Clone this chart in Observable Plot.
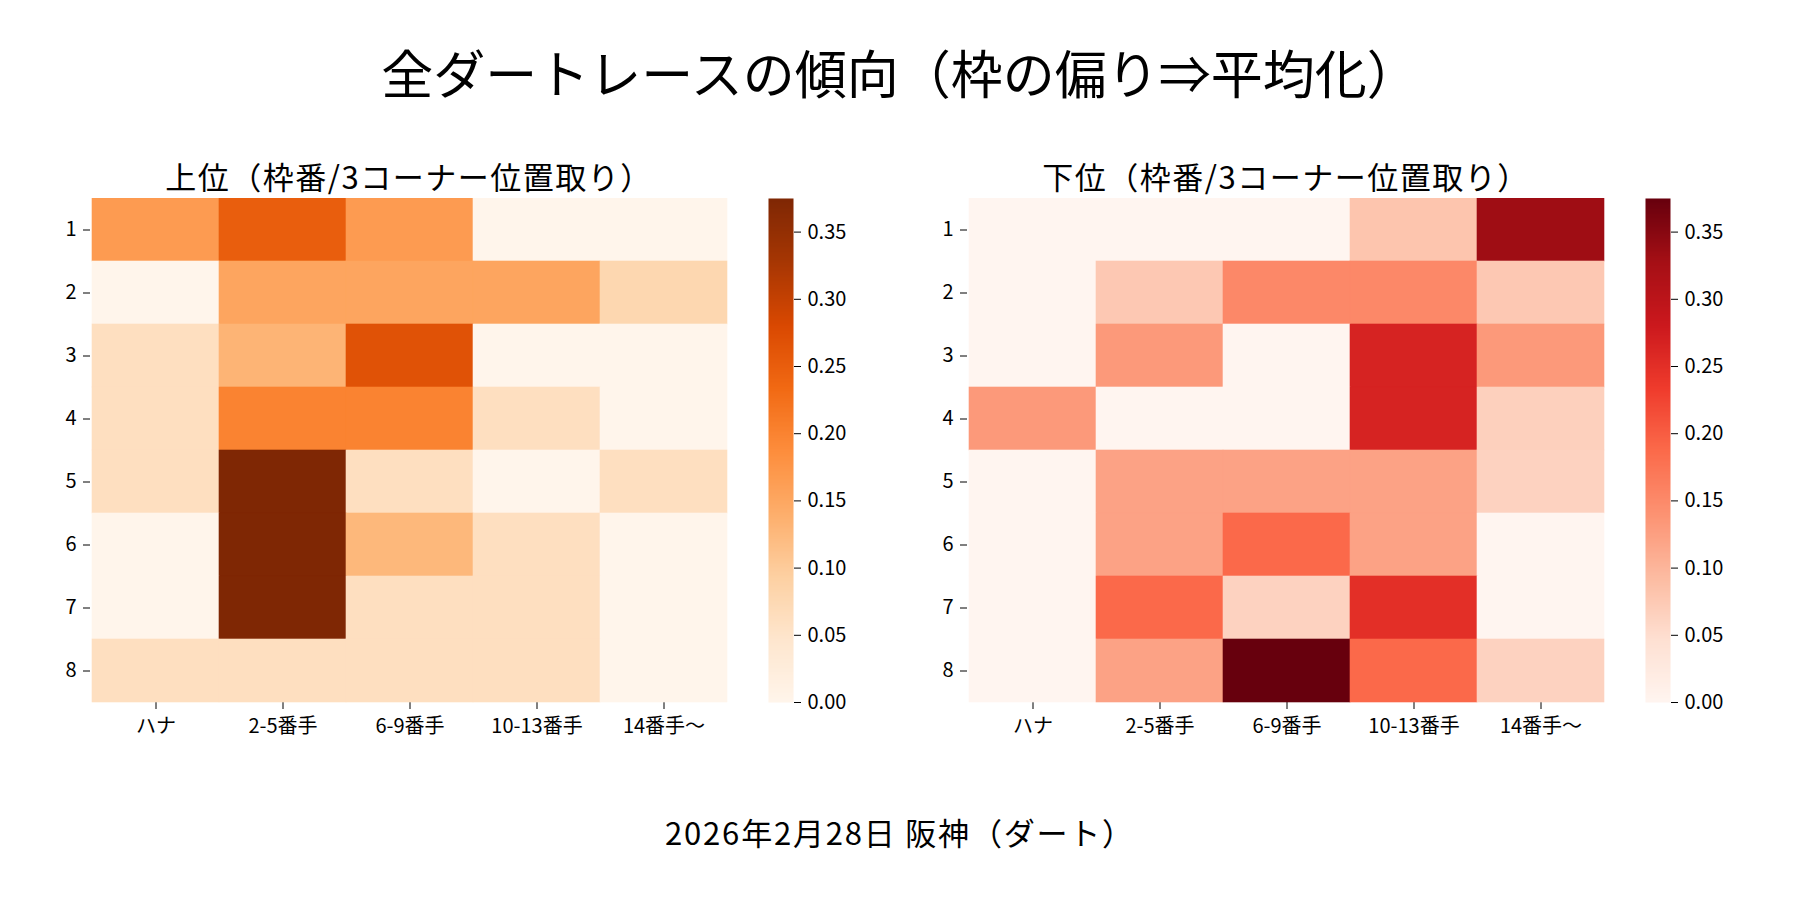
<!DOCTYPE html>
<html><head><meta charset="utf-8">
<script src="https://cdn.jsdelivr.net/npm/d3@7"></script>
<script src="https://cdn.jsdelivr.net/npm/@observablehq/plot@0.6"></script>
<style>
html,body{margin:0;padding:0;background:#fff}
#root{position:relative;width:1800px;height:900px;overflow:hidden;font-family:"Noto Sans CJK JP","Noto Sans",sans-serif;color:#000}
.abs{position:absolute}
.txt{position:absolute;white-space:nowrap;transform:translate(-50%,-50%);line-height:1}
</style></head>
<body><div id="root"></div>
<script>
// ---- data ----
const rowLabels = ["1","2","3","4","5","6","7","8"];
const colLabels = ["ハナ","2-5番手","6-9番手","10-13番手","14番手〜"];
const upperValues = [
  [0.167, 0.250, 0.167, 0.000, 0.000],
  [0.000, 0.153, 0.153, 0.153, 0.079],
  [0.062, 0.132, 0.267, 0.000, 0.000],
  [0.062, 0.200, 0.200, 0.062, 0.000],
  [0.062, 0.375, 0.062, 0.000, 0.062],
  [0.000, 0.375, 0.127, 0.062, 0.000],
  [0.000, 0.375, 0.062, 0.062, 0.000],
  [0.062, 0.062, 0.062, 0.062, 0.000]
];
const lowerValues = [
  [0.000, 0.000, 0.000, 0.081, 0.333],
  [0.000, 0.077, 0.152, 0.152, 0.077],
  [0.000, 0.133, 0.000, 0.267, 0.133],
  [0.133, 0.000, 0.000, 0.267, 0.067],
  [0.000, 0.122, 0.122, 0.122, 0.064],
  [0.000, 0.122, 0.188, 0.122, 0.000],
  [0.000, 0.188, 0.064, 0.250, 0.000],
  [0.000, 0.122, 0.375, 0.188, 0.064]
];
const colorbarTicks = [0.00, 0.05, 0.10, 0.15, 0.20, 0.25, 0.30, 0.35];
const colorMin = 0;
const colorMax = 0.375;
const mainTitle = "全ダートレースの傾向（枠の偏り⇒平均化）";
const upperTitle = "上位（枠番/3コーナー位置取り）";
const lowerTitle = "下位（枠番/3コーナー位置取り）";
const captionText = "2026年2月28日 阪神（ダート）";

// colour palettes (matplotlib Oranges / Reds anchor colours)
const ORANGES = ["#fff5eb","#fee6ce","#fdd0a2","#fdae6b","#fd8d3c","#f16913","#d94801","#a63603","#7f2704"];
const REDS = ["#fff5f0","#fee0d2","#fcbba1","#fc9272","#fb6a4a","#ef3b2c","#cb181d","#a50f15","#67000d"];

const FONT = '"Noto Sans CJK JP","Noto Sans",sans-serif';
const root = document.getElementById("root");

function colorScale(palette) {
  const stops = palette.map((_, i) => colorMin + (colorMax - colorMin) * i / (palette.length - 1));
  return {type: "linear", domain: stops, range: palette, interpolate: "rgb"};
}

function toTable(values) {
  const out = [];
  values.forEach((row, i) => row.forEach((v, j) => out.push({row: rowLabels[i], col: colLabels[j], value: v})));
  return out;
}

function place(node, left, top) {
  node.classList.add("abs");
  node.style.left = left + "px";
  node.style.top = top + "px";
  root.appendChild(node);
}

function addText(str, cx, cy, size, spacing) {
  const d = document.createElement("div");
  d.className = "txt";
  d.textContent = str;
  d.style.left = cx + "px";
  d.style.top = cy + "px";
  d.style.fontSize = size + "px";
  if (spacing) d.style.letterSpacing = spacing + "px";
  root.appendChild(d);
}

const FRAME_W = 638, FRAME_H = 504;

function heatmap(values, palette) {
  return Plot.plot({
    width: 60 + FRAME_W,
    height: FRAME_H + 70,
    marginLeft: 60, marginRight: 0, marginTop: 0, marginBottom: 70,
    style: {fontFamily: FONT, fontSize: "20px", color: "#000", background: "transparent"},
    x: {domain: colLabels, padding: 0, label: null, tickSize: 7, tickPadding: 9},
    y: {domain: rowLabels, padding: 0, label: null, tickSize: 7, tickPadding: 7},
    color: colorScale(palette),
    marks: [
      Plot.cell(toTable(values), {x: "col", y: "row", fill: "value", stroke: "value", strokeWidth: 0.6})
    ]
  });
}

function colorbar(palette) {
  return Plot.plot({
    width: 25 + 90,
    height: FRAME_H + 30,
    marginLeft: 0, marginRight: 90, marginTop: 15, marginBottom: 15,
    style: {fontFamily: FONT, fontSize: "20px", color: "#000", background: "transparent"},
    x: {domain: [0, 1], axis: null},
    y: {domain: [colorMin, colorMax], axis: "right", ticks: colorbarTicks, tickFormat: d3.format(".2f"), label: null, tickSize: 7, tickPadding: 7},
    color: colorScale(palette),
    marks: [
      Plot.raster({fill: (x, y) => y, x1: 0, x2: 1, y1: colorMin, y2: colorMax, width: 1, height: 400, imageRendering: "auto"})
    ]
  });
}

addText(mainTitle, 900, 72, 52);
addText(upperTitle, 409, 175, 31, 1.5);
addText(lowerTitle, 1286, 175, 31, 1.5);
addText(captionText, 900, 831, 31, 1.8);

place(heatmap(upperValues, ORANGES), 90 - 60, 198);
place(colorbar(ORANGES), 768, 198 - 15);
place(heatmap(lowerValues, REDS), 967 - 60, 198);
place(colorbar(REDS), 1645, 198 - 15);
</script>
</body></html>
